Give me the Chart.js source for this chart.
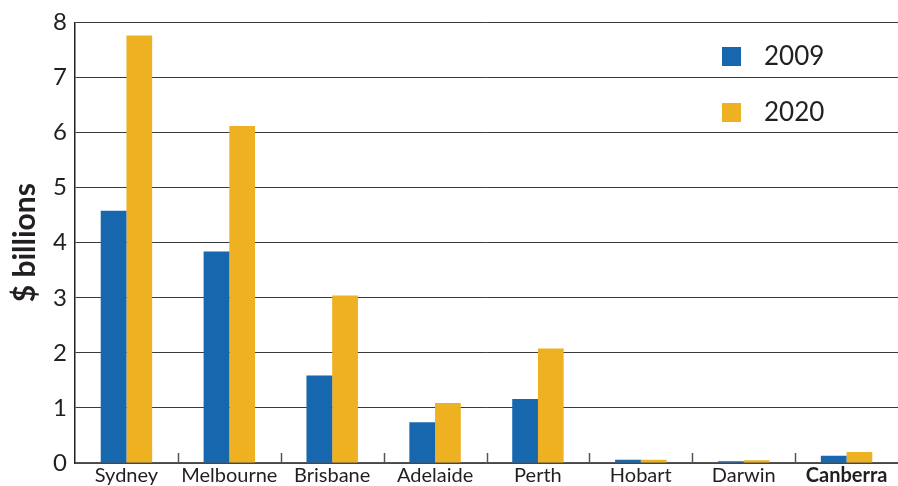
<!DOCTYPE html>
<html>
<head>
<meta charset="utf-8">
<script src="https://cdn.jsdelivr.net/npm/chart.js@4.4.0/dist/chart.umd.min.js"></script>
<style>
  html, body { margin: 0; padding: 0; background: #fff; }
  #wrap { width: 898px; height: 486px; position: relative; }
</style>
</head>
<body>
<div id="wrap"><canvas id="c" width="898" height="486"></canvas></div>
<script>
const categories = ['Sydney', 'Melbourne', 'Brisbane', 'Adelaide', 'Perth', 'Hobart', 'Darwin', 'Canberra'];
const seriesNames = ['2009', '2020'];
const values2009 = [4.58, 3.84, 1.59, 0.74, 1.16, 0.06, 0.03, 0.13];
const values2020 = [7.76, 6.12, 3.04, 1.09, 2.08, 0.06, 0.05, 0.20];
const yTicks = [0, 1, 2, 3, 4, 5, 6, 7, 8];
const boldCategory = 'Canberra';

const FONT = 'Lato, "Open Sans", sans-serif';
const TEXT = '#231f20';
const BLUE = '#1767AF';
const GOLD = '#EDB121';

const catTicks = {
  id: 'catTicks',
  afterDatasetsDraw(chart) {
    const xs = chart.scales.x;
    const ctx = chart.ctx;
    const bottom = chart.chartArea.bottom;
    ctx.save();
    ctx.strokeStyle = '#555';
    ctx.lineWidth = 1.5;
    for (let i = 1; i < categories.length; i++) {
      const x = (xs.getPixelForValue(i - 1) + xs.getPixelForValue(i)) / 2;
      ctx.beginPath();
      ctx.moveTo(Math.round(x) + 0.5, bottom);
      ctx.lineTo(Math.round(x) + 0.5, bottom - 10);
      ctx.stroke();
    }
    ctx.restore();
  }
};

const innerLegend = {
  id: 'innerLegend',
  afterDraw(chart) {
    const ctx = chart.ctx;
    ctx.save();
    ctx.font = '26px ' + FONT;
    ctx.textBaseline = 'middle';
    ctx.textAlign = 'left';
    chart.data.datasets.forEach((ds, i) => {
      const top = 47 + i * 56;
      ctx.fillStyle = ds.backgroundColor;
      ctx.fillRect(722, top, 19, 19);
      ctx.fillStyle = TEXT;
      ctx.fillText(ds.label, 764, top + 10);
    });
    ctx.restore();
  }
};

new Chart(document.getElementById('c'), {
  type: 'bar',
  data: {
    labels: categories,
    datasets: [
      { label: seriesNames[0], data: values2009, backgroundColor: BLUE },
      { label: seriesNames[1], data: values2020, backgroundColor: GOLD }
    ]
  },
  options: {
    responsive: false,
    animation: false,
    devicePixelRatio: 1,
    layout: { padding: { top: 22, right: 0, bottom: 0, left: 0 } },
    datasets: { bar: { categoryPercentage: 0.5, barPercentage: 1.0 } },
    plugins: {
      legend: { display: false },
      tooltip: { enabled: false }
    },
    scales: {
      x: {
        grid: { display: true, drawOnChartArea: false, drawTicks: false, color: 'rgba(0,0,0,0)' },
        border: { display: true, color: '#555', width: 1.5 },
        ticks: {
          color: TEXT,
          padding: 1,
          maxRotation: 0,
          autoSkip: false,
          font: (c) => ({ family: FONT, size: 20, weight: (categories[c.index] === boldCategory) ? 'bold' : 'normal' })
        },
        afterFit(s) { s.height = 23; }
      },
      y: {
        min: 0,
        max: 8,
        afterBuildTicks(s) { s.ticks = yTicks.map(v => ({ value: v })); },
        grid: { color: '#3a3a3a', lineWidth: 1, drawTicks: false },
        border: { display: true, color: '#222', width: 1.5 },
        ticks: {
          color: TEXT,
          padding: 8,
          font: { family: FONT, size: 24 }
        },
        title: {
          display: true,
          text: '$ billions',
          color: TEXT,
          font: { family: FONT, size: 30, weight: 'bold' },
          padding: { top: 7, bottom: 0 }
        },
        afterFit(s) { s.width = 75; }
      }
    }
  },
  plugins: [catTicks, innerLegend]
});
</script>
</body>
</html>
